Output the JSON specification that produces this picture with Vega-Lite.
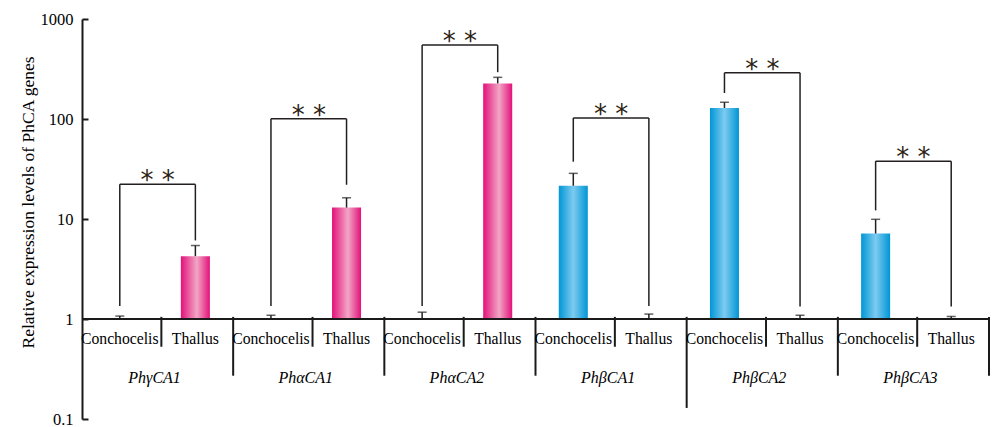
{
  "$schema": "https://vega.github.io/schema/vega-lite/v6.json",
  "width": 907,
  "height": 400,
  "autosize": "none",
  "padding": {"left": 82, "top": 19, "right": 3, "bottom": 8},
  "background": "white",
  "config": {"view": {"stroke": null}, "font": "Liberation Serif, Times New Roman, serif"},
  "datasets": {
    "expr": [
      {"gene": "PhγCA1", "tissue": "Conchocelis", "mean": 1, "err": 1.07},
      {"gene": "PhγCA1", "tissue": "Thallus", "mean": 4.25, "err": 5.43},
      {"gene": "PhαCA1", "tissue": "Conchocelis", "mean": 1, "err": 1.09},
      {"gene": "PhαCA1", "tissue": "Thallus", "mean": 13.0, "err": 16.3},
      {"gene": "PhαCA2", "tissue": "Conchocelis", "mean": 1, "err": 1.17},
      {"gene": "PhαCA2", "tissue": "Thallus", "mean": 227, "err": 261},
      {"gene": "PhβCA1", "tissue": "Conchocelis", "mean": 21.5, "err": 28.6},
      {"gene": "PhβCA1", "tissue": "Thallus", "mean": 1, "err": 1.12},
      {"gene": "PhβCA2", "tissue": "Conchocelis", "mean": 129, "err": 147},
      {"gene": "PhβCA2", "tissue": "Thallus", "mean": 1, "err": 1.09},
      {"gene": "PhβCA3", "tissue": "Conchocelis", "mean": 7.15, "err": 9.93},
      {"gene": "PhβCA3", "tissue": "Thallus", "mean": 1, "err": 1.06}
    ],
    "sig": [
      {"gene": "PhγCA1", "legL": 1.35, "legR": 6.1, "top": 22.2, "mark": "* *"},
      {"gene": "PhαCA1", "legL": 1.35, "legR": 22.0, "top": 100.5, "mark": "* *"},
      {"gene": "PhαCA2", "legL": 1.35, "legR": 294, "top": 548, "mark": "* *"},
      {"gene": "PhβCA1", "legL": 37.4, "legR": 1.35, "top": 102.5, "mark": "* *"},
      {"gene": "PhβCA2", "legL": 182, "legR": 1.33, "top": 290, "mark": "* *"},
      {"gene": "PhβCA3", "legL": 12.2, "legR": 1.33, "top": 37.9, "mark": "* *"}
    ]
  },
  "layer": [
    {
      "data": {"name": "expr"},
      "transform": [
        {"calculate": "datum.gene + '|' + datum.tissue", "as": "key"},
        {"filter": "indexof(datum.gene, 'β') < 0"}
      ],
      "mark": {
        "type": "bar",
        "width": {"band": 0.384},
        "color": {
          "gradient": "linear", "x1": 0, "y1": 0, "x2": 1, "y2": 0,
          "stops": [
            {"offset": 0, "color": "#E3117A"},
            {"offset": 0.55, "color": "#F2A6C5"},
            {"offset": 1, "color": "#E3117A"}
          ]
        }
      },
      "encoding": {
        "x": {
          "field": "key", "type": "nominal", "axis": null,
          "scale": {
            "domain": ["PhγCA1|Conchocelis", "PhγCA1|Thallus", "PhαCA1|Conchocelis", "PhαCA1|Thallus", "PhαCA2|Conchocelis", "PhαCA2|Thallus", "PhβCA1|Conchocelis", "PhβCA1|Thallus", "PhβCA2|Conchocelis", "PhβCA2|Thallus", "PhβCA3|Conchocelis", "PhβCA3|Thallus"],
            "paddingInner": 0, "paddingOuter": 0
          }
        },
        "y": {
          "field": "mean", "type": "quantitative",
          "scale": {"type": "log", "domain": [0.1, 1000]},
          "axis": {
            "values": [0.1, 1, 10, 100, 1000],
            "format": "~g",
            "grid": false,
            "title": "Relative expression levels of PhCA genes",
            "titleFont": "Liberation Serif, Times New Roman, serif",
            "titleFontSize": 17.5,
            "titleFontWeight": "normal",
            "titleColor": "black",
            "titlePadding": 3,
            "titleY": 183,
            "labelFont": "Liberation Serif, Times New Roman, serif",
            "labelFontSize": 16.5,
            "labelColor": "black",
            "labelPadding": 15,
            "domainColor": "#1a1a1a",
            "domainWidth": 2,
            "tickColor": "#1a1a1a",
            "tickWidth": 2,
            "tickSize": -6
          }
        },
        "y2": {"datum": 1}
      }
    },
    {
      "data": {"name": "expr"},
      "transform": [
        {"calculate": "datum.gene + '|' + datum.tissue", "as": "key"},
        {"filter": "indexof(datum.gene, 'β') >= 0"}
      ],
      "mark": {
        "type": "bar",
        "width": {"band": 0.384},
        "color": {
          "gradient": "linear", "x1": 0, "y1": 0, "x2": 1, "y2": 0,
          "stops": [
            {"offset": 0, "color": "#0096D6"},
            {"offset": 0.5, "color": "#7DCBF0"},
            {"offset": 1, "color": "#0096D6"}
          ]
        }
      },
      "encoding": {
        "x": {"field": "key", "type": "nominal"},
        "y": {"field": "mean", "type": "quantitative"},
        "y2": {"datum": 1}
      }
    },
    {
      "data": {"name": "expr"},
      "transform": [{"calculate": "datum.gene + '|' + datum.tissue", "as": "key"}],
      "mark": {"type": "rule", "color": "#231f20", "strokeWidth": 1.5},
      "encoding": {
        "x": {"field": "key", "type": "nominal"},
        "y": {"field": "mean", "type": "quantitative"},
        "y2": {"field": "err"}
      }
    },
    {
      "data": {"name": "expr"},
      "transform": [{"calculate": "datum.gene + '|' + datum.tissue", "as": "key"}],
      "mark": {"type": "tick", "orient": "horizontal", "size": 9, "thickness": 1.5, "color": "#231f20"},
      "encoding": {
        "x": {"field": "key", "type": "nominal"},
        "y": {"field": "err", "type": "quantitative"}
      }
    },
    {
      "data": {"name": "sig"},
      "transform": [{"calculate": "datum.gene + '|Conchocelis'", "as": "ck"}],
      "mark": {"type": "rule", "color": "#231f20", "strokeWidth": 1.5},
      "encoding": {
        "x": {"field": "ck", "type": "nominal"},
        "y": {"field": "legL", "type": "quantitative"},
        "y2": {"field": "top"}
      }
    },
    {
      "data": {"name": "sig"},
      "transform": [{"calculate": "datum.gene + '|Thallus'", "as": "tk"}],
      "mark": {"type": "rule", "color": "#231f20", "strokeWidth": 1.5},
      "encoding": {
        "x": {"field": "tk", "type": "nominal"},
        "y": {"field": "legR", "type": "quantitative"},
        "y2": {"field": "top"}
      }
    },
    {
      "data": {"name": "sig"},
      "transform": [
        {"calculate": "datum.gene + '|Conchocelis'", "as": "ck"},
        {"calculate": "datum.gene + '|Thallus'", "as": "tk"}
      ],
      "mark": {"type": "rule", "color": "#231f20", "strokeWidth": 1.5},
      "encoding": {
        "x": {"field": "ck", "type": "nominal", "bandPosition": 0.5},
        "x2": {"field": "tk", "bandPosition": 0.5},
        "y": {"field": "top", "type": "quantitative"}
      }
    },
    {
      "data": {"name": "sig"},
      "transform": [{"calculate": "datum.gene + '|Thallus'", "as": "tk"}],
      "mark": {"type": "text", "font": "DejaVu Sans", "fontSize": 26, "color": "#2e1f14", "baseline": "alphabetic", "dy": 5},
      "encoding": {
        "x": {"field": "tk", "type": "nominal", "bandPosition": 0},
        "y": {"field": "top", "type": "quantitative"},
        "text": {"field": "mark"}
      }
    },
    {
      "data": {"values": [{}]},
      "mark": {"type": "rule", "color": "#1a1a1a", "strokeWidth": 2},
      "encoding": {
        "x": {"value": 0},
        "x2": {"value": "width"},
        "y": {"datum": 1, "type": "quantitative"}
      }
    },
    {
      "data": {"name": "expr"},
      "transform": [
        {"calculate": "datum.gene + '|' + datum.tissue", "as": "key"},
        {"filter": "datum.tissue == 'Thallus'"}
      ],
      "mark": {"type": "rule", "color": "#1a1a1a", "strokeWidth": 2},
      "encoding": {
        "x": {"field": "key", "type": "nominal", "bandPosition": 0.05},
        "y": {"datum": 1.05, "type": "quantitative"},
        "y2": {"datum": 0.528}
      }
    },
    {
      "data": {"name": "expr"},
      "transform": [
        {"calculate": "datum.gene + '|' + datum.tissue", "as": "key"},
        {"filter": "datum.tissue == 'Conchocelis' && datum.gene != 'PhγCA1' && datum.gene != 'PhβCA2'"}
      ],
      "mark": {"type": "rule", "color": "#1a1a1a", "strokeWidth": 2},
      "encoding": {
        "x": {"field": "key", "type": "nominal", "bandPosition": 0},
        "y": {"datum": 1.05, "type": "quantitative"},
        "y2": {"datum": 0.271}
      }
    },
    {
      "data": {"name": "expr"},
      "transform": [
        {"calculate": "datum.gene + '|' + datum.tissue", "as": "key"},
        {"filter": "datum.tissue == 'Conchocelis' && datum.gene == 'PhβCA2'"}
      ],
      "mark": {"type": "rule", "color": "#1a1a1a", "strokeWidth": 2},
      "encoding": {
        "x": {"field": "key", "type": "nominal", "bandPosition": 0},
        "y": {"datum": 1.05, "type": "quantitative"},
        "y2": {"datum": 0.129}
      }
    },
    {
      "data": {"name": "expr"},
      "transform": [
        {"calculate": "datum.gene + '|' + datum.tissue", "as": "key"},
        {"filter": "datum.tissue == 'Thallus' && datum.gene == 'PhβCA3'"}
      ],
      "mark": {"type": "rule", "color": "#1a1a1a", "strokeWidth": 2},
      "encoding": {
        "x": {"field": "key", "type": "nominal", "bandPosition": 1},
        "y": {"datum": 1.05, "type": "quantitative"},
        "y2": {"datum": 0.271}
      }
    },
    {
      "data": {"name": "expr"},
      "transform": [{"calculate": "datum.gene + '|' + datum.tissue", "as": "key"}],
      "mark": {"type": "text", "font": "Liberation Serif, Times New Roman, serif", "fontSize": 15.7, "color": "black", "baseline": "middle"},
      "encoding": {
        "x": {"field": "key", "type": "nominal"},
        "y": {"datum": 0.631, "type": "quantitative"},
        "text": {"field": "tissue"}
      }
    },
    {
      "data": {"name": "expr"},
      "transform": [
        {"calculate": "datum.gene + '|' + datum.tissue", "as": "key"},
        {"filter": "datum.tissue == 'Thallus'"}
      ],
      "mark": {"type": "text", "font": "Liberation Serif, Times New Roman, serif", "fontSize": 16, "fontStyle": "italic", "color": "black", "baseline": "middle", "dx": -3},
      "encoding": {
        "x": {"field": "key", "type": "nominal", "bandPosition": 0},
        "y": {"datum": 0.257, "type": "quantitative"},
        "text": {"field": "gene"}
      }
    }
  ]
}
